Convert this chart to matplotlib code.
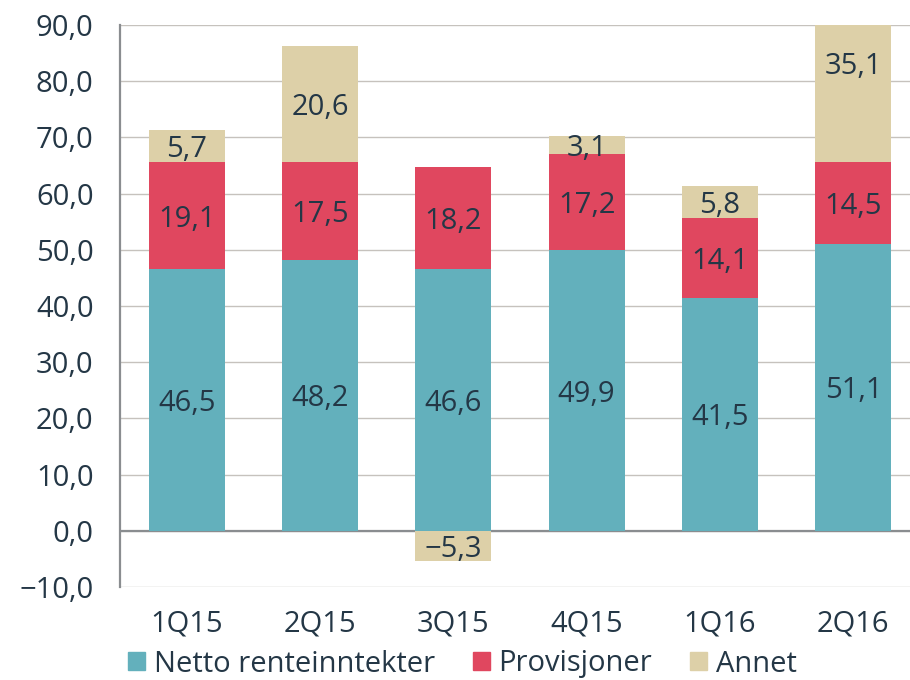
import matplotlib
matplotlib.use('Agg')
import matplotlib.pyplot as plt
from matplotlib.patches import Patch
import numpy as np

# Kvartalsdata (MNOK)
kvartaler = ['1Q15', '2Q15', '3Q15', '4Q15', '1Q16', '2Q16']
netto_rente = [46.5, 48.2, 46.6, 49.9, 41.5, 51.1]
provisjoner = [19.1, 17.5, 18.2, 17.2, 14.1, 14.5]
annet = [5.7, 20.6, -5.3, 3.1, 5.8, 35.1]
y_ticks = [-10, 0, 10, 20, 30, 40, 50, 60, 70, 80, 90]

TEAL = '#63b0bc'
RED = '#e0475f'
TAN = '#ddd0a8'
TEXT = '#243746'
FS = 21

plt.rcParams['font.family'] = ['Open Sans', 'DejaVu Sans']

fig = plt.figure(figsize=(9.1, 6.8), dpi=100)
ax = fig.add_axes([120 / 910, 93 / 680, 800 / 910, 562 / 680])

x = np.arange(len(kvartaler))
w = 0.57
netto = np.array(netto_rente)
prov = np.array(provisjoner)
ann = np.array(annet)

# Annet stables over provisjoner når positiv, under null når negativ
ann_bunn = np.where(ann >= 0, netto + prov, 0)

ax.bar(x, netto, w, color=TEAL, zorder=2)
ax.bar(x, prov, w, bottom=netto, color=RED, zorder=2)
ax.bar(x, ann, w, bottom=ann_bunn, color=TAN, zorder=2)

def fmt(v):
    return f'{v:.1f}'.replace('.', ',').replace('-', '\u2212')

for i in range(len(x)):
    ax.text(x[i], netto[i] / 2, fmt(netto[i]), ha='center', va='center_baseline',
            fontsize=FS, color=TEXT, zorder=3)
    ax.text(x[i], netto[i] + prov[i] / 2, fmt(prov[i]), ha='center', va='center_baseline',
            fontsize=FS, color=TEXT, zorder=3)
    ax.text(x[i], ann_bunn[i] + ann[i] / 2, fmt(ann[i]), ha='center', va='center_baseline',
            fontsize=FS, color=TEXT, zorder=3)

ax.set_xlim(-0.5, len(x) - 0.5)
ax.set_ylim(-10, 90)
ax.set_yticks(y_ticks)
ax.set_yticklabels([fmt(v) for v in y_ticks])
ax.set_xticks(x)
ax.set_xticklabels(kvartaler)
ax.tick_params(axis='both', length=0, labelsize=FS, labelcolor=TEXT)
ax.tick_params(axis='y', pad=19)
ax.tick_params(axis='x', pad=16)

ax.grid(axis='y', color='#c6c2bd', linewidth=1.0, zorder=0)
ax.set_axisbelow(True)
ax.axhline(0, color='#8a8d90', linewidth=1.6, zorder=1)
for s in ['top', 'right', 'bottom']:
    ax.spines[s].set_visible(False)
ax.spines['left'].set_color('#8a8d90')
ax.spines['left'].set_linewidth(1.6)

handles = [Patch(color=TEAL, label='Netto renteinntekter'),
           Patch(color=RED, label='Provisjoner'),
           Patch(color=TAN, label='Annet')]
fig.legend(handles=handles, loc='center left', bbox_to_anchor=(128 / 910, 16 / 680),
           ncol=3, frameon=False, fontsize=FS, labelcolor=TEXT,
           handlelength=0.58, handleheight=0.58, handletextpad=0.3,
           columnspacing=1.3, borderpad=0, borderaxespad=0)

fig.savefig('out.png', dpi=100)
